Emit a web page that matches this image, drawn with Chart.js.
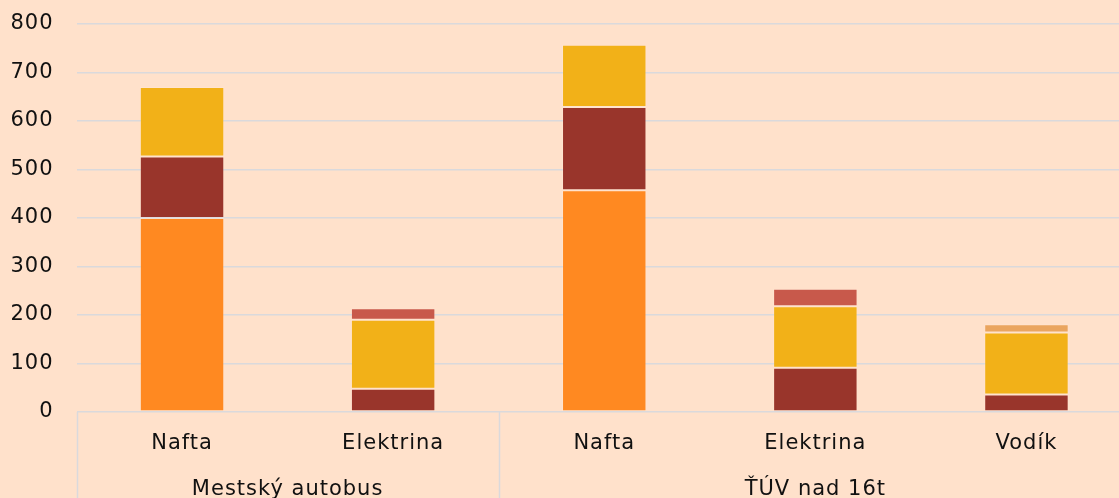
<!DOCTYPE html>
<html>
<head>
<meta charset="utf-8">
<script src="https://cdn.jsdelivr.net/npm/chart.js"></script>
<style>
    html, body { margin: 0; padding: 0; overflow: hidden; background: #FFE1CB; }
    .wrap { width: 1132px; height: 498px; position: relative; }
</style>
</head>
<body>
<div class="wrap"><canvas id="chart"></canvas></div>
<script>
// kategórie a skupiny
const categories = ['Nafta', 'Elektrina', 'Nafta', 'Elektrina', 'Vodík'];
const groupNames = ['Mestský autobus', 'ŤÚV nad 16t'];
const groupSizes = [2, 3];

// hodnoty jednotlivých zložiek (odčítané z grafu)
const palivo      = [400, null, 457, null, null];
const vozidlo     = [127, 48, 172, 91, 36];
const udrzba      = [143, 142, 128, 127, 128];
const bateria     = [null, 24, null, 36, null];
const palClanky   = [null, null, null, null, 17];

const yTicks = [0, 100, 200, 300, 400, 500, 600, 700, 800];

const gridColor = '#DAD9DC';
const font = '"DejaVu Sans", sans-serif';

// stredy skupín a hranice
const groupCenters = [];
const groupEdges = [-0.5];
let start = 0;
groupSizes.forEach(n => {
    groupCenters.push(start + (n - 1) / 2);
    start += n;
    groupEdges.push(start - 0.5);
});

// trochu širšie písmo ako v origináli
const tracking = {
    id: 'tracking',
    beforeLayout(chart) { chart.ctx.letterSpacing = '1px'; },
    beforeDraw(chart) { chart.ctx.letterSpacing = '1px'; }
};

const separators = {
    id: 'separators',
    afterDraw(chart) {
        const sc = chart.scales.x2;
        const ctx = chart.ctx;
        ctx.save();
        ctx.strokeStyle = gridColor;
        ctx.lineWidth = 1.5;
        groupEdges.forEach(v => {
            const px = Math.round(sc.getPixelForValue(v)) + 0.5;
            ctx.beginPath();
            ctx.moveTo(px, chart.chartArea.bottom);
            ctx.lineTo(px, chart.height);
            ctx.stroke();
        });
        ctx.restore();
    }
};

function ds(label, data, color) {
    return {
        label, data,
        backgroundColor: color,
        borderColor: 'rgba(255,255,255,0.1)',
        borderWidth: 1,
        borderSkipped: false,
        barPercentage: 0.4,
        categoryPercentage: 1
    };
}

new Chart(document.getElementById('chart'), {
    type: 'bar',
    data: {
        labels: categories,
        datasets: [
            ds('Palivo', palivo, '#FF8921'),
            ds('Vozidlo', vozidlo, '#99352B'),
            ds('Údržba', udrzba, '#F2B118'),
            ds('Batéria', bateria, '#C8594B'),
            ds('Palivové články', palClanky, '#EAA55F')
        ]
    },
    options: {
        responsive: true,
        maintainAspectRatio: false,
        animation: false,
        layout: { padding: { top: 24, right: 0, left: 0, bottom: 0 } },
        plugins: { legend: { display: false }, tooltip: { enabled: false } },
        scales: {
            x: {
                stacked: true,
                position: 'bottom',
                grid: { display: false },
                border: { display: false },
                ticks: { color: '#111', font: { family: font, size: 21 }, padding: 11, maxRotation: 0 },
                afterFit(s) { s.height = 44; }
            },
            x2: {
                type: 'linear',
                position: 'bottom',
                bounds: 'data',
                offset: false,
                min: -0.5,
                max: categories.length - 0.5,
                grid: { display: false },
                border: { display: false },
                afterBuildTicks(s) { s.ticks = groupCenters.map(v => ({ value: v })); },
                ticks: {
                    color: '#111', font: { family: font, size: 21 }, padding: 13, maxRotation: 0,
                    callback: (v) => groupNames[groupCenters.indexOf(v)]
                },
                afterFit(s) { s.height = 42; }
            },
            y: {
                stacked: true,
                min: 0,
                max: 800,
                afterBuildTicks(s) { s.ticks = yTicks.map(v => ({ value: v })); },
                grid: { color: gridColor, lineWidth: 1.5, drawTicks: false },
                border: { display: false },
                ticks: { color: '#111', font: { family: font, size: 21 }, padding: 23 },
                afterFit(s) { s.width = 76.5; s.paddingTop = 0; s.paddingBottom = 0; }
            }
        }
    },
    plugins: [tracking, separators]
});
</script>
</body>
</html>
